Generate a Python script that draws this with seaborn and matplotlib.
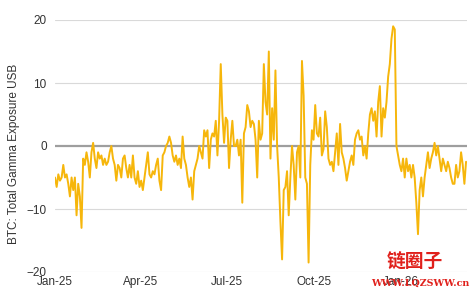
import matplotlib
matplotlib.use("Agg")
import matplotlib.pyplot as plt
import matplotlib.dates as mdates
import seaborn as sns
import pandas as pd

gamma_2025a = [
    -5, -6.5, -4.5, -5.5, -5, -3, -5, -4.5, -6, -8, -5, -7, -5, -11, -6, -8, -13,
    -2, -3, -1, -2.5, -5, -1, 0.5, -2, -3.5, -1, -2, -1.5, -3, -2, -3, -2.5, -1, 0,
    -2, -3, -5.5, -3, -3.5, -5, -2, -1.5, -3.5, -5, -3, -5, -1.5, -5, -6, -4, -6.5,
    -5.5, -7, -5, -3, -1, -4.5, -5, -4, -4.5, -3, -2, -5.5, -7, -1.5, -1, 0, 0.5,
    1.5, 0.5, -1.5, -2.5, -1.5, -3, -2, -3.5, 1.5, -2, -3, -5, -6.5, -5, -8.5, -4,
    -3, -2, 0, -1, -2, 2.5, 1.5, 2.5, -3.5, 1, 2, 1.5, 4, -1.5, 4, 13, 5, 0.5, 4.5,
    4, -3.5, 1, 4, 0,
]
gamma_2025b = [
    0, 1, -1.5, 1, -9, 2, 3, 6.5, 5.5, 3, 4, 3.5, 1, -5, 4, 1, 2, 13, 7, 5, 15, -2,
    6, 1, 12, 0, -5, -12, -18, -7, -6.5, -4, -11, -5, 0, -3, -8.5, -1, 0, -5, 13.5,
    8, -5, -6, -18.5, -3, 2.5, 1, 6.5, 2, 1.5, 4.5, -1.5, -0.5, 5.5, 3, -2, -3,
    -2.5, -4, -1, 2, -3, 3.5, -1, -2, -3.5, -5.5, -4, -2.5, -1.5, -3, 1, 2, 2.5, 1,
    1.5, -1.5, 0, -2, 2, 5, 6, 4, 5.5, 1.5, 7, 9.5, 1.5, 6, 4.5, 7, 11, 13, 17, 19,
    18.5,
]
gamma_2026 = [
    0, -1.5, -3, -4, -2, -5, -2, -4, -3, -5, -3, -5, -9, -14, -7, -5, -8, -5, -3,
    -1, -3.5, -2, -1, 0.5, -1.5, 0, -2, -4, -2, -3, -4, -2.5, -3.5, -5, -6, -6, -3,
    -5, -4, -1, -3, -6, -2.5,
]
values = gamma_2025a + gamma_2025b + gamma_2026
dates = pd.date_range("2025-01-01", periods=len(values), freq="42h")
df = pd.DataFrame({"date": dates, "gamma": values})

tick_dates = pd.to_datetime(["2025-01-01", "2025-04-01", "2025-07-01", "2025-10-01", "2026-01-01"])
y_ticks = [-20, -10, 0, 10, 20]

sns.set_theme(style="white")
plt.rcParams["font.family"] = ["Liberation Sans", "DejaVu Sans"]

fig = plt.figure(figsize=(4.76, 2.92), dpi=100)
ax = fig.add_axes([55 / 476, 20 / 292, 412 / 476, 252 / 292])

for yv in y_ticks:
    if yv == 0:
        ax.axhline(yv, color="#9e9e9e", lw=1.6, zorder=1)
    else:
        ax.axhline(yv, color="#d9d9d9", lw=0.8, zorder=1)

sns.lineplot(data=df, x="date", y="gamma", ax=ax, color="#F6B60B", lw=1.4, zorder=3)

ax.set_ylim(-20, 20)
ax.set_xlim(dates[0], dates[-1] + pd.Timedelta(days=1))
ax.set_yticks(y_ticks)
ax.set_xticks(tick_dates)
ax.xaxis.set_major_formatter(mdates.DateFormatter("%b-%y"))
ax.tick_params(axis="both", length=0, labelsize=8.5, colors="#333333")
ax.tick_params(axis="y", pad=6)
ax.tick_params(axis="x", pad=3)
for s in ax.spines.values():
    s.set_visible(False)
ax.set_xlabel("")
ax.set_ylabel("BTC: Total Gamma Exposure USB", fontsize=8.5, color="#333333")
ax.yaxis.set_label_coords(-35 / 412, 0.47)

fig.text(415 / 476, 1 - 262 / 292, "链圈子", color="#e0201b", fontsize=13.5, fontweight="bold",
         ha="center", va="center", family=["Noto Sans CJK SC", "DejaVu Sans"], zorder=10)
fig.text(420 / 476, 1 - 283 / 292, "WWW.LQZSWW.cn", color="#e0201b", fontsize=6.8, fontweight="bold",
         ha="center", va="center", family=["DejaVu Serif"], zorder=10)

fig.savefig("out.png", dpi=100)
